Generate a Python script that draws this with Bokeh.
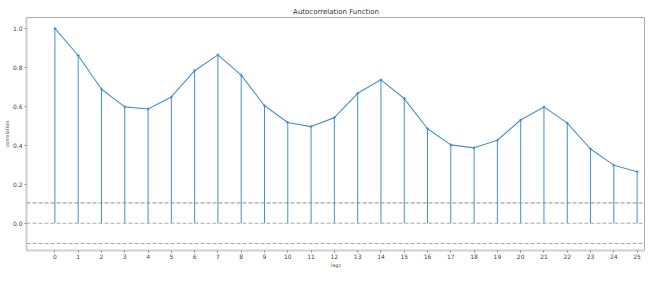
from bokeh.plotting import figure
from bokeh.models import Span, ColumnDataSource, FixedTicker, CustomJSTickFormatter
from bokeh.embed import file_html
from bokeh.resources import INLINE

lags = list(range(26))
acf = [1.0, 0.861, 0.688, 0.597, 0.586, 0.648, 0.783, 0.864, 0.760, 0.603,
       0.517, 0.496, 0.542, 0.667, 0.736, 0.640, 0.485, 0.402, 0.387, 0.426,
       0.530, 0.597, 0.514, 0.381, 0.298, 0.264]
conf_upper = 0.104
conf_lower = -0.104
zero_level = 0.0
y_ticks = [0.0, 0.2, 0.4, 0.6, 0.8, 1.0]

src = ColumnDataSource(dict(lag=lags, acf=acf, base=[zero_level] * len(lags)))

p = figure(width=645, height=270, output_backend="svg", toolbar_location=None,
           title="Autocorrelation Function",
           x_range=(-1.22, 25.36), y_range=(-0.14, 1.056),
           min_border_left=0, min_border_right=0, min_border_top=17, min_border_bottom=0)

blue = "#4690cc"
p.segment(x0="lag", y0="base", x1="lag", y1="acf", source=src, line_color=blue, line_width=1)
p.line(x="lag", y="acf", source=src, line_color=blue, line_width=1.1)
p.scatter(x="lag", y="acf", source=src, marker="cross", size=3, line_color=blue, line_width=1)

for loc, col in [(conf_upper, "#8a8a8a"), (zero_level, "#a8a8a8"), (conf_lower, "#a8a8a8")]:
    p.add_layout(Span(location=loc, dimension="width", line_color=col,
                      line_dash="4 2", line_width=1))

p.title.align = "center"
p.title.text_font = "DejaVu Sans"
p.title.text_font_size = "7px"
p.title.text_font_style = "normal"
p.title.text_color = "#333333"
p.title.standoff = 3
p.title.offset = 0

p.xgrid.visible = False
p.ygrid.visible = False
p.outline_line_color = "#aaaaaa"
p.outline_line_width = 1

p.xaxis.ticker = FixedTicker(ticks=lags)
p.yaxis.ticker = FixedTicker(ticks=y_ticks)
p.yaxis.formatter = CustomJSTickFormatter(code="return tick.toFixed(1);")

for ax in (p.xaxis, p.yaxis):
    ax.major_label_text_font = "DejaVu Sans"
    ax.major_label_text_font_size = "6px"
    ax.major_label_text_color = "#444444"
    ax.axis_label_text_font = "DejaVu Sans"
    ax.axis_label_text_font_size = "5px"
    ax.axis_label_text_font_style = "normal"
    ax.axis_label_text_color = "#555555"
    ax.major_tick_line_color = "#888888"
    ax.major_tick_in = 0
    ax.major_tick_out = 2
    ax.minor_tick_line_color = None
    ax.major_label_standoff = 1
    ax.axis_label_standoff = 0

p.yaxis.major_label_standoff = 2
p.xaxis.axis_label = "lags"
p.yaxis.axis_label = "correlation"
p.yaxis.axis_line_color = "#cccccc"
p.yaxis.axis_line_width = 2
p.xaxis.axis_line_color = "#d0d0d0"
p.xaxis.axis_line_width = 2

open("out.html", "w").write(file_html(p, INLINE))
